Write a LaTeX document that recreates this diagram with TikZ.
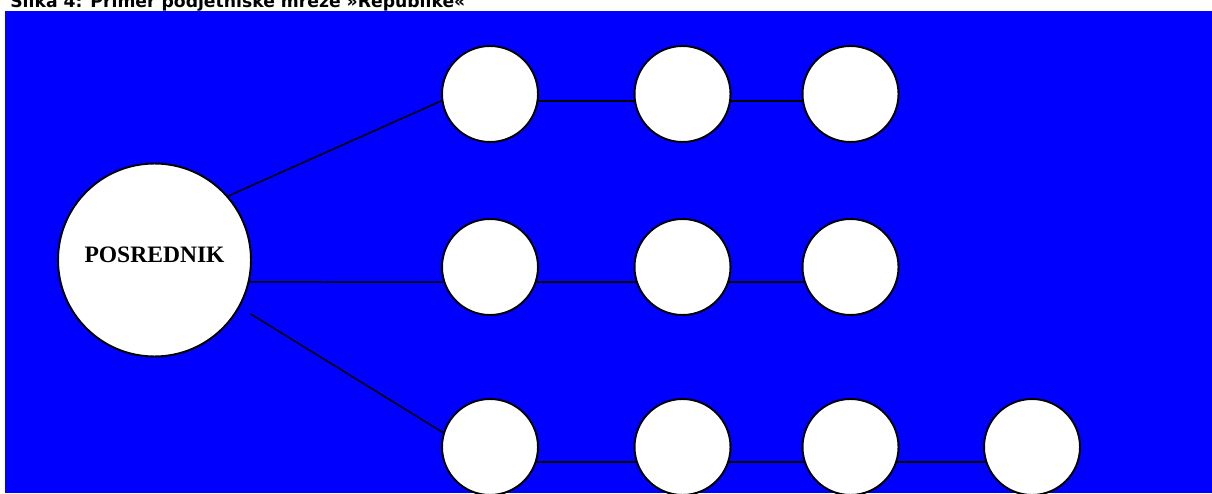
\documentclass[tikz,border=0pt]{standalone}
\usepackage{fontspec}
\setmainfont{Liberation Serif}
\newfontfamily\titlefont{DejaVu Sans}
\usepackage{tikz}
\usepackage{xcolor}
\usetikzlibrary{positioning}
\definecolor{netblue}{RGB}{0,0,255}

\begin{document}
\begin{tikzpicture}[x=0.02cm, y=-0.02cm, every node/.style={inner sep=0pt}]
\tikzstyle{hub}=[draw, circle, fill=white, line width=1.1pt, minimum size=3.86cm, font=\fontsize{13.4}{15}\selectfont\bfseries, text depth=5.6pt]
\tikzstyle{member}=[draw, circle, fill=white, line width=1.1pt, minimum size=1.92cm]
\tikzstyle{tie}=[line width=0.85pt]
\useasboundingbox (0,0) rectangle (1212,493);
\clip (0,0) rectangle (1212,493);
\fill[netblue] (5,11) rectangle (1212,493);
\node[anchor=base west, font=\titlefont\fontsize{9.8}{12}\selectfont\bfseries] (title) at (10,8) {Slika 4: Primer podjetniške mreže »Republike«};
% posrednik and the three chains
\node[hub] (pos) at (154.5,260) {POSREDNIK};
\node[member] (a1) at (490,94) {};
\node[member] (a2) at (682.5,94) {};
\node[member] (a3) at (850.5,94) {};
\node[member] (b1) at (490,267) {};
\node[member] (b2) at (682.5,267) {};
\node[member] (b3) at (850.5,267) {};
\node[member] (c1) at (490,447) {};
\node[member] (c2) at (682.5,447) {};
\node[member] (c3) at (850.5,447) {};
\node[member] (c4) at (1032,447) {};
\draw[tie] (pos.41) -- (a1.188);
\draw[tie] (pos.-13) -- (b1.198);
\draw[tie, shorten <=0.25cm] (pos.-29) -- (c1.163);
\draw[tie] (a1.-8.4) -- (a2.188.4);
\draw[tie] (a2.-8.4) -- (a3.188.4);
\draw[tie] (b1.-18.2) -- (b2.198.2);
\draw[tie] (b2.-18.2) -- (b3.198.2);
\draw[tie] (c1.-18.2) -- (c2.198.2);
\draw[tie] (c2.-18.2) -- (c3.198.2);
\draw[tie] (c3.-18.2) -- (c4.198.2);
\end{tikzpicture}
\end{document}
